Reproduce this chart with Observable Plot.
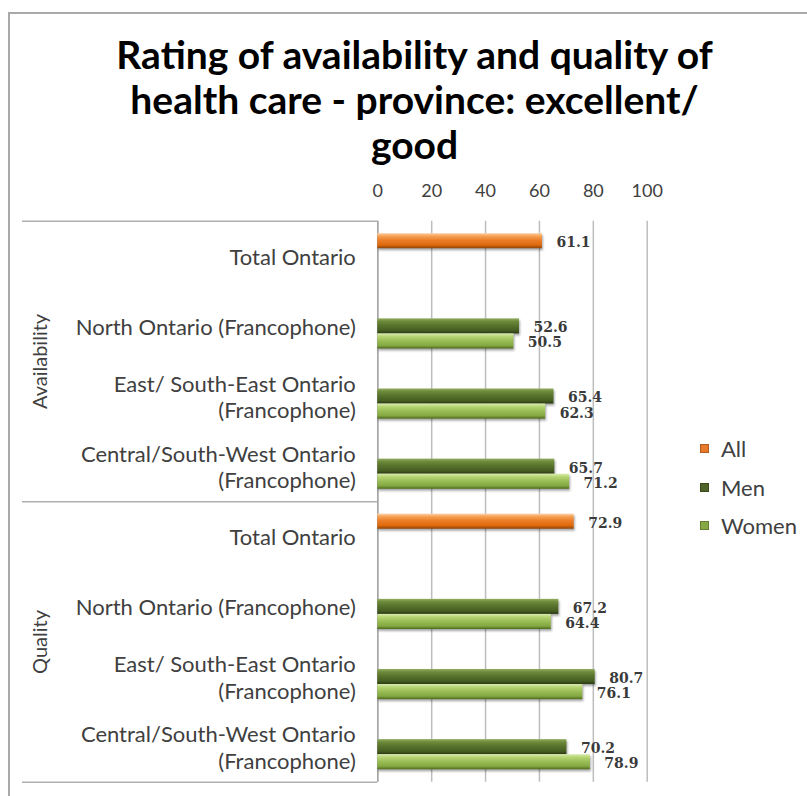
<!DOCTYPE html>
<html><head><meta charset="utf-8">
<script src="https://cdn.jsdelivr.net/npm/d3@7"></script>
<script src="https://cdn.jsdelivr.net/npm/@observablehq/plot@0.6"></script>
<style>
html,body{margin:0;padding:0;background:#fff;}
#page{position:relative;width:807px;height:796px;overflow:hidden;background:#fff;font-family:Lato,sans-serif;}
#frame{position:absolute;left:8px;top:12px;width:900px;height:900px;border-left:2px solid #a9a9a9;border-top:2px solid #a9a9a9;}
#title{position:absolute;left:0;top:32px;width:807px;padding-left:22px;box-sizing:border-box;text-align:center;font-family:Lato,sans-serif;font-weight:bold;font-size:39px;line-height:45px;color:#000;white-space:nowrap;}
#chart{position:absolute;left:0;top:170px;}
.lg{position:absolute;left:700px;height:24px;display:flex;align-items:center;font-family:Lato,sans-serif;font-size:22px;color:#404040;}
.lg span.sw{display:inline-block;width:7px;height:7px;margin-right:12px;border:1px solid rgba(0,0,0,0.25);}
#chart g[aria-label="rect"]{filter:drop-shadow(1px 2px 1.2px rgba(0,0,0,0.35));}
</style>
</head><body>
<svg width="0" height="0" style="position:absolute">
  <defs>
    <linearGradient id="gAll" x1="0" y1="0" x2="0" y2="1">
      <stop offset="0" stop-color="#fcd2ac"/>
      <stop offset="0.18" stop-color="#f7a458"/>
      <stop offset="0.45" stop-color="#ec7e2a"/>
      <stop offset="0.78" stop-color="#e06a0c"/>
      <stop offset="1" stop-color="#8e4206"/>
    </linearGradient>
    <linearGradient id="gMen" x1="0" y1="0" x2="0" y2="1">
      <stop offset="0" stop-color="#93ad62"/>
      <stop offset="0.2" stop-color="#6c8a3a"/>
      <stop offset="0.5" stop-color="#56712b"/>
      <stop offset="0.8" stop-color="#465e22"/>
      <stop offset="1" stop-color="#2a3a12"/>
    </linearGradient>
    <linearGradient id="gWomen" x1="0" y1="0" x2="0" y2="1">
      <stop offset="0" stop-color="#dcedb0"/>
      <stop offset="0.2" stop-color="#b6d574"/>
      <stop offset="0.5" stop-color="#99bc55"/>
      <stop offset="0.8" stop-color="#84a842"/>
      <stop offset="1" stop-color="#4f6a1c"/>
    </linearGradient>
  </defs>
</svg>
<div id="page">
  <div id="frame"></div>
  <div id="title">Rating of availability and quality of<br>health care - province: excellent/<br>good</div>
  <div id="chart"></div>
  <div id="legend"></div>
</div>
<script>
// ---- data ----
const groups = ["Availability", "Quality"];
const regions = [
  "Total Ontario",
  "North Ontario (Francophone)",
  "East/ South-East Ontario\n(Francophone)",
  "Central/South-West Ontario\n(Francophone)"
];
const seriesNames = ["All", "Men", "Women"];
const allValues = [61.1, 72.9];            // Total Ontario: Availability, Quality
const menAvailability = [52.6, 65.4, 65.7];   // North, East/SE, Central/SW
const womenAvailability = [50.5, 62.3, 71.2];
const menQuality = [67.2, 80.7, 70.2];
const womenQuality = [64.4, 76.1, 78.9];
const xTicks = [0, 20, 40, 60, 80, 100];

// ---- layout / style ----
const W = 807, H = 626;
const mL = 377.3, mR = 160.3, mT = 50.7, mB = 14.3;
const slotStart = 0.1775, slotSize = 0.215;
const seriesFill = {All: "url(#gAll)", Men: "url(#gMen)", Women: "url(#gWomen)"};
const seriesSwatch = {All: "#e8782a", Men: "#4f6228", Women: "#86a845"};

// ---- build rows ----
const rows = [];
const rowLabels = [];
groups.forEach((g, gi) => {
  regions.forEach(r => rowLabels.push(r));
  rows.push({group: g, row: gi * 4, series: "All", slot: 0, value: allValues[gi]});
  const men = gi === 0 ? menAvailability : menQuality;
  const women = gi === 0 ? womenAvailability : womenQuality;
  men.forEach((v, k) => rows.push({group: g, row: gi * 4 + 1 + k, series: "Men", slot: 1, value: v}));
  women.forEach((v, k) => rows.push({group: g, row: gi * 4 + 1 + k, series: "Women", slot: 2, value: v}));
});
rows.forEach(d => {
  d.y1 = d.row - 0.5 + slotStart + slotSize * d.slot;
  d.y2 = d.y1 + slotSize;
  d.ym = (d.y1 + d.y2) / 2;
});
const groupBounds = groups.map((g, gi) => gi * 4 - 0.5).concat([groups.length * 4 - 0.5]);
const groupCenters = groups.map((g, gi) => gi * 4 + 1.5);

const chart = Plot.plot({
  width: W, height: H,
  marginLeft: mL, marginRight: mR, marginTop: mT, marginBottom: mB,
  style: {fontFamily: "Lato, sans-serif", color: "#404040", background: "transparent", overflow: "visible"},
  x: {domain: [0, 100]},
  y: {type: "linear", domain: [-0.5, rowLabels.length - 0.5], reverse: true},
  marks: [
    Plot.gridX(xTicks, {stroke: "#bdbdbd", strokeOpacity: 1, strokeWidth: 1.5}),
    Plot.ruleX([0], {stroke: "#a6a6a6", strokeWidth: 1.5}),
    Plot.ruleY(groupBounds, {stroke: "#b0b0b0", strokeWidth: 1.5, insetLeft: 22 - mL, insetRight: W - mR - mL}),
    Plot.axisX({anchor: "top", ticks: xTicks, tickSize: 0, tickPadding: 24, fontSize: 18, label: null}),
    Plot.axisY({ticks: d3.range(rowLabels.length), tickFormat: i => rowLabels[i], tickSize: 0, tickPadding: 22, fontSize: 22, lineHeight: 1.2, label: null}),
    Plot.text(groups, {y: (d, i) => groupCenters[i], text: d => d, frameAnchor: "left", textAnchor: "middle", dx: 40 - mL, rotate: -90, fontSize: 20, fill: "#404040"}),
    ...seriesNames.map(s => Plot.rectX(rows.filter(d => d.series === s), {x1: 0, x2: "value", y1: "y1", y2: "y2", fill: seriesFill[s]})),
    Plot.text(rows, {x: "value", y: "ym", text: d => d.value.toFixed(1), textAnchor: "start", dx: 14, dy: 1.5, fontFamily: "DejaVu Serif", fontWeight: "bold", fontSize: 14, fill: "#3a3a3a"})
  ]
});
document.getElementById("chart").appendChild(chart);

// legend
const legendY = [448, 487, 525];
const lg = document.getElementById("legend");
seriesNames.forEach((s, i) => {
  const div = document.createElement("div");
  div.className = "lg";
  div.style.top = (legendY[i] - 12) + "px";
  div.innerHTML = `<span class="sw" style="background:${seriesSwatch[s]}"></span>${s}`;
  lg.appendChild(div);
});
</script>
</body></html>
